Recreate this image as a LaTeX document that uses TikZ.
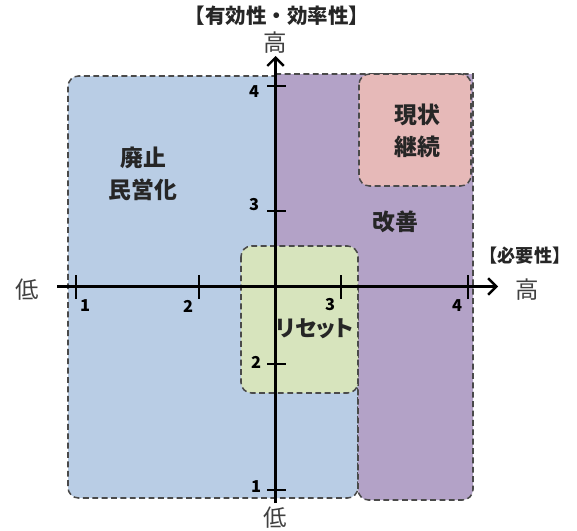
\documentclass[tikz,border=0pt]{standalone}
\usepackage{fontspec}
\newfontfamily\jpfont{Noto Sans CJK JP}
\newfontfamily\jpprop[RawFeature=+palt]{Noto Sans CJK JP}
\usetikzlibrary{positioning, arrows.meta}

\definecolor{zoneblue}{HTML}{B9CDE5}
\definecolor{zonepurple}{HTML}{B3A2C7}
\definecolor{zonepink}{HTML}{E6B9B8}
\definecolor{zonegreen}{HTML}{D7E4BD}
\definecolor{edgegray}{HTML}{4A4A4A}

\begin{document}
\begin{tikzpicture}[
    x = 0.03cm, y = -0.03cm,
    > = {Straight Barb[length=7pt, width=14pt]},
    zone/.style={draw=edgegray, line width=1.3pt, dash pattern=on 5pt off 3pt, rounded corners=9pt},
    axisline/.style={line width=2pt, black},
    tickmark/.style={line width=1.5pt, black},
    region/.style={font=\jpfont\bfseries\fontsize{19.5}{27}\selectfont, align=center, text=black!85},
    ends/.style={font=\jpfont\fontsize{20}{22}\selectfont, text=black!75},
    heading/.style={font=\jpfont\bfseries\fontsize{17.5}{20}\selectfont, text=black!85, inner sep=0pt},
    num/.style={font=\jpfont\bfseries\fontsize{14}{16}\selectfont, inner sep=1pt}
]
\useasboundingbox (0,0) rectangle (577,531);

% 1. ZONES
\draw[zone, fill=zoneblue] (68,76) rectangle (358,498);
\draw[zone, sharp corners, fill=zonepurple] (358,300) -- (275,300) -- (275,74) -- (473,74)
    [rounded corners=9pt] -- (473,500) -- (358,500) -- (358,300) [sharp corners] -- cycle;
\draw[zone, fill=zonepink] (359,74) rectangle (471,186);
\draw[zone, fill=zonegreen] (241,246) rectangle (358,393);

\node[region] (abolish) at (143,174) {廃止\\民営化};
\node[region] (keep) at (417,131) {現状\\継続};
\node[region] (improve) at (395,222) {改善};
\node[region, font=\jpprop\bfseries\fontsize{19}{27}\selectfont] (reset) at (315,329) {リセット};

% 2. AXES
\coordinate (xstart) at (57,286.5);
\coordinate (xend) at (498,286.5);
\coordinate (ystart) at (275.5,503);
\coordinate (yend) at (275.5,56);

\draw[axisline, ->] (xstart) -- (xend);
\draw[axisline, ->] (ystart) -- (yend);

\node[ends] (xlow) at (27,290) {低};
\node[ends] (xhigh) at (527,290) {高};
\node[ends] (yhigh) at (275,43) {高};
\node[ends] (ylow) at (275,518) {低};
\node[heading] (ytitle) at (277,16) {【有効性・効率性】};
\node[heading, font=\jpfont\bfseries\fontsize{15.5}{18}\selectfont] (xtitle) at (525,256) {【必要性】};

% 3. TICKS
\draw[tickmark] (76,275) -- (76,299);
\draw[tickmark] (199,275) -- (199,299);
\draw[tickmark] (341,275) -- (341,299);
\draw[tickmark] (468,275) -- (468,299);

\draw[tickmark] (267,86) -- (286,86);
\draw[tickmark] (267,211) -- (286,211);
\draw[tickmark] (267,364) -- (286,364);
\draw[tickmark] (267,490) -- (286,490);

\node[num] (x1) at (85,306) {1};
\node[num] (x2) at (188,306) {2};
\node[num] (x3) at (330,305) {3};
\node[num] (x4) at (457,306) {4};

\node[num] (y4) at (254,92) {4};
\node[num] (y3) at (254,205) {3};
\node[num] (y2) at (256,362) {2};
\node[num] (y1) at (256,487) {1};

\end{tikzpicture}
\end{document}
